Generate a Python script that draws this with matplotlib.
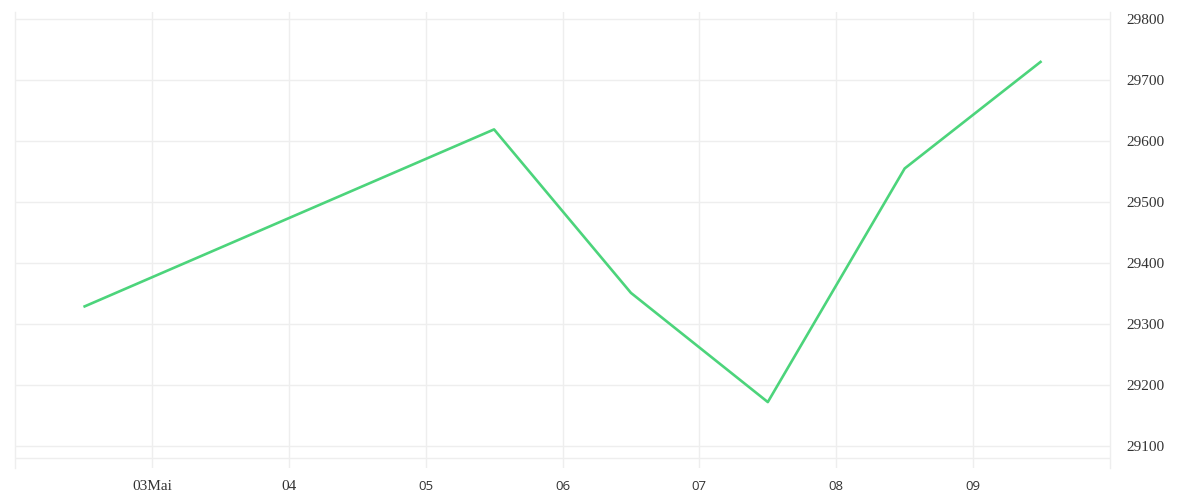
import matplotlib
matplotlib.use("Agg")
import matplotlib.pyplot as plt
from matplotlib.font_manager import FontProperties
from datetime import datetime

# dados
datas = [datetime(2025, 5, 2, 12), datetime(2025, 5, 5, 12), datetime(2025, 5, 6, 12),
         datetime(2025, 5, 7, 12), datetime(2025, 5, 8, 12), datetime(2025, 5, 9, 12)]
valores = [29328, 29619, 29351, 29172, 29555, 29731]

dias_ticks = [datetime(2025, 5, d) for d in range(3, 10)]
rotulos_x = ["03Mai", "04", "05", "06", "07", "08", "09"]
ticks_y = [29100, 29200, 29300, 29400, 29500, 29600, 29700, 29800]

grid_cor = "#eeeeee"
serif = FontProperties(family="Liberation Serif", size=11)
sans = FontProperties(family="Open Sans", size=9.5)

fig = plt.figure(figsize=(12, 5), dpi=100)
ax = fig.add_axes([0.0125, 0.064, 0.9125, 0.912])

ax.plot(datas, valores, color="#4cd47b", linewidth=1.9, solid_capstyle="butt")

ax.set_xlim(datetime(2025, 5, 2), datetime(2025, 5, 10))
ax.set_ylim(29063.9, 29811.5)

ax.set_xticks(dias_ticks)
ax.set_xticklabels(rotulos_x)
ax.set_yticks(ticks_y)
ax.yaxis.tick_right()

ax.grid(True, color=grid_cor, linewidth=1)
ax.set_axisbelow(True)
# linha inferior do quadro
ax.axhline(29080, color=grid_cor, linewidth=1, zorder=0)

for lado in ["left", "right"]:
    ax.spines[lado].set_color(grid_cor)
    ax.spines[lado].set_linewidth(1)
for lado in ["top", "bottom"]:
    ax.spines[lado].set_visible(False)

ax.tick_params(axis="x", length=0, pad=9, colors="#333333")
ax.tick_params(axis="y", length=0, pad=12, colors="#333333")

for lbl in ax.get_yticklabels():
    lbl.set_fontproperties(serif)
for i, lbl in enumerate(ax.get_xticklabels()):
    lbl.set_fontproperties(serif if i < 2 else sans)

fig.savefig("out.png", dpi=100)
